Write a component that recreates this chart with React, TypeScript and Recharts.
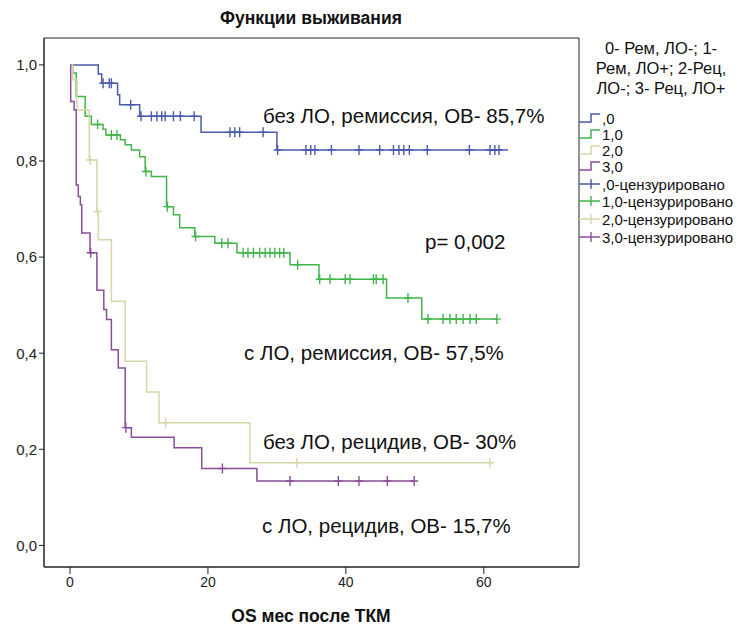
import React from "react";
import { LineChart, Line, XAxis, YAxis, ReferenceArea } from "recharts";

// [time (months), survival, censored 1/0]
const group0: [number, number, number][] = [
  [0, 1, 0], [4.1, 0.981, 0], [4.6, 0.962, 0], [4.8, 0.962, 1], [5.7, 0.962, 1], [6.0, 0.962, 1],
  [6.9, 0.938, 0], [7.2, 0.917, 0], [8.8, 0.917, 1], [10.1, 0.893, 0], [10.3, 0.893, 1],
  [11.8, 0.893, 1], [12.6, 0.893, 1], [13.3, 0.893, 1], [13.8, 0.893, 1], [15.0, 0.893, 1],
  [16.0, 0.893, 1], [18.0, 0.893, 1], [19.0, 0.86, 0], [23.2, 0.86, 1], [23.9, 0.86, 1],
  [24.6, 0.86, 1], [28.0, 0.86, 1], [30.0, 0.823, 0], [30.1, 0.823, 1], [34.2, 0.823, 1],
  [34.9, 0.823, 1], [35.5, 0.823, 1], [37.9, 0.823, 1], [41.9, 0.823, 1], [44.9, 0.823, 1],
  [46.9, 0.823, 1], [47.7, 0.823, 1], [48.4, 0.823, 1], [49.2, 0.823, 1], [51.8, 0.823, 1],
  [57.9, 0.823, 1], [60.9, 0.823, 1], [61.6, 0.823, 1], [62.2, 0.823, 1], [63.5, 0.823, 0],
];

const group1: [number, number, number][] = [
  [0, 1, 0], [0.4, 0.983, 0], [0.9, 0.934, 0], [2.2, 0.893, 0], [3.1, 0.876, 0], [4.0, 0.876, 1],
  [4.8, 0.866, 0], [5.2, 0.854, 0], [6.0, 0.854, 1], [6.8, 0.854, 1], [7.3, 0.844, 0],
  [8.0, 0.834, 0], [8.9, 0.823, 0], [10.1, 0.809, 0], [10.9, 0.778, 0], [11.0, 0.778, 1],
  [11.8, 0.768, 0], [14.0, 0.705, 0], [14.1, 0.705, 1], [15.0, 0.688, 0], [15.9, 0.661, 0],
  [18.1, 0.643, 0], [18.2, 0.643, 1], [21.0, 0.629, 0], [22.0, 0.629, 1], [22.9, 0.629, 1],
  [24.2, 0.609, 0], [25.1, 0.609, 1], [25.8, 0.609, 1], [26.6, 0.609, 1], [27.5, 0.609, 1],
  [28.3, 0.609, 1], [29.0, 0.609, 1], [29.7, 0.609, 1], [30.4, 0.609, 1], [31.0, 0.609, 1],
  [31.9, 0.584, 0], [33.0, 0.584, 1], [36.1, 0.554, 0], [36.2, 0.554, 1], [37.7, 0.554, 1],
  [39.9, 0.554, 1], [40.6, 0.554, 1], [44.0, 0.554, 1], [44.4, 0.554, 1], [45.4, 0.554, 1],
  [45.9, 0.515, 0], [49.0, 0.515, 1], [51.0, 0.471, 0], [51.9, 0.471, 1], [54.1, 0.471, 1],
  [55.1, 0.471, 1], [56.0, 0.471, 1], [57.0, 0.471, 1], [58.0, 0.471, 1], [58.9, 0.471, 1],
  [61.9, 0.471, 1],
];

const group2: [number, number, number][] = [
  [0, 1, 0], [0.4, 0.969, 0], [1.0, 0.906, 0], [2.8, 0.802, 0], [2.9, 0.802, 1], [3.9, 0.695, 0],
  [4.0, 0.695, 1], [4.1, 0.636, 0], [6.0, 0.508, 0], [8.0, 0.383, 0], [11.1, 0.319, 0],
  [12.9, 0.255, 0], [13.9, 0.255, 1], [26.1, 0.172, 0], [32.9, 0.172, 1], [60.9, 0.172, 1],
];

const group3: [number, number, number][] = [
  [0, 1, 0], [0.1, 0.924, 0], [0.6, 0.906, 0], [0.9, 0.75, 0], [1.2, 0.726, 0], [1.5, 0.709, 0],
  [1.7, 0.65, 0], [2.9, 0.609, 0], [3.0, 0.609, 1], [3.9, 0.531, 0], [4.9, 0.491, 0],
  [5.3, 0.47, 0], [6.0, 0.407, 0], [7.0, 0.369, 0], [8.0, 0.245, 0], [8.1, 0.245, 1],
  [8.9, 0.225, 0], [15.1, 0.203, 0], [19.1, 0.16, 0], [22.1, 0.16, 1], [27.1, 0.134, 0],
  [31.9, 0.134, 1], [38.9, 0.134, 1], [41.9, 0.134, 1], [46.0, 0.134, 1], [49.9, 0.134, 1],
];

const groupLabels = [",0", "1,0", "2,0", "3,0"];
const censorLabels = [",0-цензурировано", "1,0-цензурировано", "2,0-цензурировано", "3,0-цензурировано"];
const colors = ["#4b5aaa", "#41b54b", "#d8d6a6", "#8c4c9c"];
const xTicks = [0, 20, 40, 60];
const yTicks = [0, 0.2, 0.4, 0.6, 0.8, 1.0];
const legendTitle = ["0- Рем, ЛО-; 1-", "Рем, ЛО+; 2-Рец,", "ЛО-; 3- Рец, ЛО+"];
const annotations = [
  { text: "без ЛО, ремиссия, ОВ- 85,7%", x: 255, y: 107 },
  { text: "p= 0,002", x: 417, y: 233 },
  { text: "с ЛО, ремиссия, ОВ- 57,5%", x: 236, y: 344 },
  { text: "без ЛО, рецидив, ОВ- 30%", x: 255, y: 433 },
  { text: "с ЛО, рецидив, ОВ- 15,7%", x: 254, y: 517 },
];

const X_DOMAIN: [number, number] = [-3.77, 73.8];
const Y_DOMAIN: [number, number] = [-0.045, 1.056];

const toData = (rows: [number, number, number][]) => rows.map(([t, s, c]) => ({ t, s, c }));
const series = [group0, group1, group2, group3].map(toData);

const FONT = "'Liberation Sans', Arial, sans-serif";
const NARROW = "'Liberation Sans Narrow', 'Liberation Sans', Arial, sans-serif";

const makeDot = (color: string) => (props: any) => {
  const { cx, cy, payload, index } = props;
  if (!payload || !payload.c || cx == null || cy == null) return <g key={`n${index}`} />;
  return (
    <path
      key={`c${index}`}
      d={`M${cx - 4},${cy}H${cx + 4}M${cx},${cy - 5}V${cy + 5}`}
      stroke={color}
      strokeWidth={1.4}
      fill="none"
    />
  );
};

const fmt = (v: number) => v.toFixed(1).replace(".", ",");

export default function App() {
  const W = 723;
  const H = 613;
  const legendYs = [110, 126, 142, 158, 176, 193, 211, 229];
  return (
    <div style={{ position: "relative", width: 739, height: 629, overflow: "hidden", background: "#fff" }}>
      <style>{"html,body{margin:0;padding:0;overflow:hidden}"}</style>
      <div style={{ position: "absolute", left: 8, top: 8, width: W, height: H }}>
        <LineChart width={W} height={H} margin={{ top: 30, right: 152, left: 0, bottom: 24 }}>
          <XAxis
            type="number"
            dataKey="t"
            domain={X_DOMAIN}
            ticks={xTicks}
            allowDataOverflow
            height={30}
            tickSize={7}
            tickMargin={3}
            stroke="#222"
            tick={{ fill: "#222", fontSize: 14, fontFamily: NARROW }}
          />
          <YAxis
            type="number"
            domain={Y_DOMAIN}
            ticks={yTicks}
            allowDataOverflow
            width={36}
            tickSize={5}
            tickMargin={2}
            stroke="#222"
            tickFormatter={fmt}
            tick={{ fill: "#222", fontSize: 15, fontFamily: NARROW }}
          />
          <ReferenceArea
            x1={X_DOMAIN[0]}
            x2={X_DOMAIN[1]}
            y1={Y_DOMAIN[0]}
            y2={Y_DOMAIN[1]}
            fill="none"
            stroke="#222"
            strokeWidth={1}
            ifOverflow="visible"
          />
          {series.map((d, i) => (
            <Line
              key={i}
              data={d}
              dataKey="s"
              type="stepAfter"
              stroke={colors[i]}
              strokeWidth={1.5}
              dot={makeDot(colors[i])}
              activeDot={false}
              isAnimationActive={false}
            />
          ))}
        </LineChart>
      </div>
      <svg
        width={739}
        height={629}
        viewBox="-8 -8 739 629"
        style={{ position: "absolute", left: 0, top: 0, pointerEvents: "none" }}
      >
        <text x={303} y={10} textAnchor="middle" dominantBaseline="central" fontFamily={FONT} fontWeight="bold" fontSize={17.5} fill="#111">
          Функции выживания
        </text>
        <text x={303} y={608} textAnchor="middle" dominantBaseline="central" fontFamily={FONT} fontWeight="bold" fontSize={17.5} fill="#111">
          OS мес после ТКМ
        </text>
        {annotations.map((a, i) => (
          <text key={i} x={a.x} y={a.y} dominantBaseline="central" fontFamily={FONT} fontSize={20.5} fill="#111">
            {a.text}
          </text>
        ))}
        {legendTitle.map((t, i) => (
          <text key={i} x={653} y={40 + i * 20} textAnchor="middle" dominantBaseline="central" fontFamily={FONT} fontSize={16.5} fill="#111">
            {t}
          </text>
        ))}
        {groupLabels.map((t, i) => {
          const y = legendYs[i];
          return (
            <g key={`g${i}`}>
              <path d={`M571,${y + 4}H583V${y - 4}H592`} stroke={colors[i]} strokeWidth={1.5} fill="none" />
              <text x={594} y={y} dominantBaseline="central" fontFamily={FONT} fontSize={15} fill="#111">
                {t}
              </text>
            </g>
          );
        })}
        {censorLabels.map((t, i) => {
          const y = legendYs[i + 4];
          return (
            <g key={`c${i}`}>
              <path d={`M571,${y}H592M583,${y - 5}V${y + 5}`} stroke={colors[i]} strokeWidth={1.4} fill="none" />
              <text x={594} y={y} dominantBaseline="central" fontFamily={FONT} fontSize={15} fill="#111">
                {t}
              </text>
            </g>
          );
        })}
      </svg>
    </div>
  );
}
